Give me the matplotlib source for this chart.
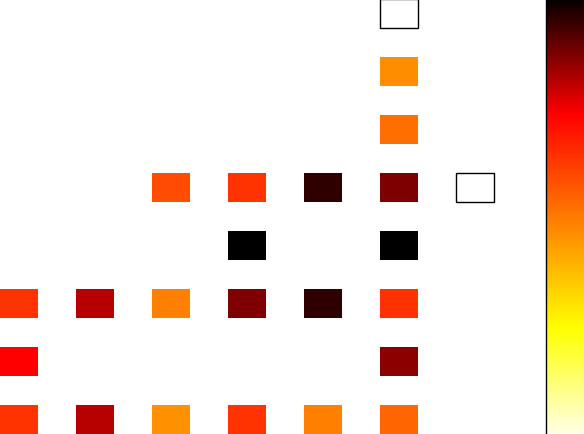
import matplotlib
matplotlib.use("Agg")
import matplotlib.pyplot as plt
import numpy as np
from matplotlib.colors import LinearSegmentedColormap, Normalize
from matplotlib.cm import ScalarMappable

# grid positions (column, row counted from the bottom) and the value in each cell
cols = [5,
        5,
        5,
        2, 3, 4, 5, 6,
        3, 5,
        0, 1, 2, 3, 4, 5,
        0, 5,
        0, 1, 2, 3, 4, 5]
rows = [7,
        6,
        5,
        4, 4, 4, 4, 4,
        3, 3,
        2, 2, 2, 2, 2, 2,
        1, 1,
        0, 0, 0, 0, 0, 0]
values = [0.0,
          0.475,
          0.528,
          0.595, 0.642, 0.953, 0.869, 0.0,
          1.0, 1.0,
          0.642, 0.809, 0.499, 0.869, 0.953, 0.647,
          0.738, 0.853,
          0.642, 0.809, 0.468, 0.642, 0.499, 0.547]

# white -> yellow -> red -> black, as in the colour bar
cmap = LinearSegmentedColormap.from_list(
    "heat", [(0.0, "white"), (0.26, "yellow"), (0.738, "red"), (1.0, "black")])
norm = Normalize(vmin=0, vmax=1)

fig = plt.figure(figsize=(5.84, 4.35), dpi=100)
ax = fig.add_axes([0, 0, 532 / 584, 1])

x = np.array(cols, dtype=float)
y = np.array(rows, dtype=float)
v = np.array(values)
face = cmap(norm(v))
edge = [(0, 0, 0, 1) if val == 0 else c for val, c in zip(v, face)]
lw = [1.0 if val == 0 else 0.0 for val in v]
ax.bar(x, 0.5, width=0.5, bottom=y - 0.25, color=face, edgecolor=edge,
       linewidth=lw, clip_on=False)

ax.set_xlim(-0.25, 6.75)
ax.set_ylim(-0.25, 7.25)
ax.axis("off")

# colour bar runs past the right edge of the picture, so no ticks show
cax = fig.add_axes([546 / 584, -12 / 435, 0.12, 450 / 435])
sm = ScalarMappable(norm=norm, cmap=cmap)
cb = fig.colorbar(sm, cax=cax)
cb.outline.set_linewidth(1.0)
cb.set_ticks([])

fig.savefig("out.png", dpi=100)
